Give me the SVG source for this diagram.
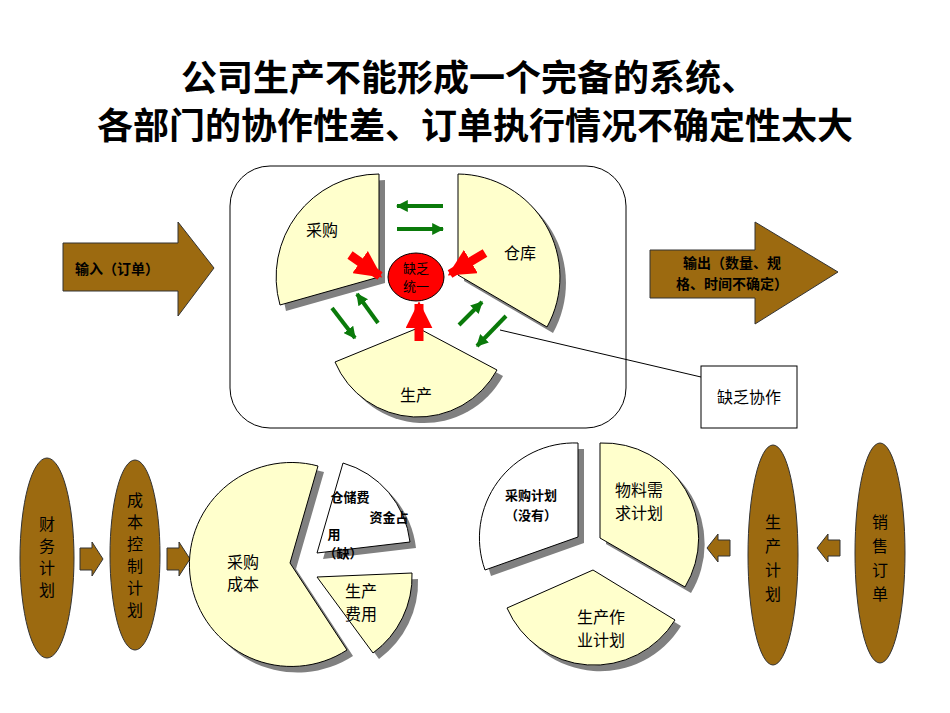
<svg xmlns="http://www.w3.org/2000/svg" width="950" height="713" viewBox="0 0 950 713">
<style>
text{font-family:"Noto Sans CJK SC","Liberation Sans",sans-serif;fill:#000}
.t{font-size:36px;font-weight:bold;text-anchor:middle}
.l{font-size:16px;text-anchor:middle}
.b{font-size:13px;font-weight:bold;text-anchor:middle}
.pie{fill:#FFFFCC;stroke:#000;stroke-width:1}
.w{fill:#fff;stroke:#000;stroke-width:1}
.sh{fill:#808080}
.br{fill:#9C6A10;stroke:#333;stroke-width:1}
.g{stroke:#0A7A0A;stroke-width:4;fill:none;marker-end:url(#ga)}
.r{stroke:#FF0000;stroke-width:9;fill:none;marker-end:url(#ra)}
</style>
<defs>
<marker id="ga" viewBox="0 0 10 10" refX="9" refY="5" markerWidth="3" markerHeight="3" orient="auto"><path d="M0,0L10,5L0,10Z" fill="#0A7A0A"/></marker>
<marker id="ra" viewBox="0 0 10 10" refX="9" refY="5" markerWidth="3" markerHeight="3" orient="auto"><path d="M0,0L10,5L0,10Z" fill="#FF0000"/></marker>
</defs>
<rect width="950" height="713" fill="#fff"/>
<text class="t" x="469" y="91">公司生产不能形成一个完备的系统、</text>
<text class="t" x="475" y="139">各部门的协作性差、订单执行情况不确定性太大</text>

<rect x="230" y="166" width="396" height="262" rx="40" fill="#fff" stroke="#000"/>
<g id="caigou"><path class="sh" d="M385,283L385,180A103,103 0 0 0 286,311Z"/><path class="pie" d="M379,277L379,174A103,103 0 0 0 280,305Z"/><text class="l" x="322" y="236">采购</text></g>
<g id="cangku"><path class="sh" d="M464,281L464,180A103,103 0 0 1 553,333Z"/><path class="pie" d="M458,275L458,174A103,103 0 0 1 547,327Z"/><text class="l" x="520" y="259">仓库</text></g>
<g id="shengchan"><path class="sh" d="M424,334L503,376A90,90 0 0 1 341,368Z"/><path class="pie" d="M418,328L497,370A90,90 0 0 1 335,362Z"/><text class="l" x="416" y="401">生产</text></g>
<g id="unify"><ellipse cx="416" cy="277" rx="28" ry="24" fill="#FF0000" stroke="#000"/><text x="416" y="273" font-size="13" text-anchor="middle">缺乏</text><text x="416" y="291" font-size="13" text-anchor="middle">统一</text></g>
<g id="connectors">
<path class="r" d="M350,255L380,276"/>
<path class="r" d="M485,253L450,274"/>
<path class="r" d="M419,341L419,304"/>
<path class="g" d="M443,206L397,206"/>
<path class="g" d="M397,229L443,229"/>
<path class="g" d="M332,308L355,338"/>
<path class="g" d="M378,323L357,294"/>
<path class="g" d="M459,325L482,302"/>
<path class="g" d="M506,316L477,346"/>
<path d="M500,330L701,377" stroke="#000" fill="none"/>
<path class="br" d="M80,548h12v-6l11,17l-11,17v-6h-12z"/>
<path class="br" d="M167,548h12v-6l11,17l-11,17v-6h-12z"/>
<path class="br" d="M730,540h-12v-6l-11,14l11,14v-6h12z"/>
<path class="br" d="M840,540h-12v-6l-11,14l11,14v-6h12z"/>
</g>
<g id="in"><path class="br" d="M63,243H178V222L214,268L178,316V291H63Z"/><text x="75" y="274" font-size="14" font-weight="bold">输入（订单）</text></g>
<g id="out"><path class="br" d="M650,250H755V222L838,272L755,324V298H650Z"/><text x="732" y="268" font-size="14" font-weight="bold" text-anchor="middle">输出（数量、规</text><text x="732" y="289" font-size="14" font-weight="bold" text-anchor="middle">格、时间不确定）</text></g>
<g id="xiezuo"><rect x="701" y="366" width="96" height="62" fill="#fff" stroke="#000"/><text class="l" x="749" y="403">缺乏协作</text></g>

<g id="caiwu"><ellipse class="br" cx="47" cy="558" rx="27" ry="100"/><text class="l" x="47" y="530">财</text><text class="l" x="47" y="552">务</text><text class="l" x="47" y="574">计</text><text class="l" x="47" y="596">划</text></g>
<g id="chengben"><ellipse class="br" cx="135" cy="555" rx="25" ry="95"/><text class="l" x="135" y="506">成</text><text class="l" x="135" y="528">本</text><text class="l" x="135" y="550">控</text><text class="l" x="135" y="572">制</text><text class="l" x="135" y="594">计</text><text class="l" x="135" y="616">划</text></g>
<g id="scjh"><ellipse class="br" cx="773" cy="555" rx="25" ry="110"/><text class="l" x="773" y="528">生</text><text class="l" x="773" y="552">产</text><text class="l" x="773" y="576">计</text><text class="l" x="773" y="600">划</text></g>
<g id="xsdd"><ellipse class="br" cx="880" cy="553" rx="25" ry="110"/><text class="l" x="880" y="528">销</text><text class="l" x="880" y="552">售</text><text class="l" x="880" y="576">订</text><text class="l" x="880" y="600">单</text></g>

<g id="cgcb"><path class="sh" d="M296,569L324,472A102,102 0 1 0 353,656Z"/><path class="pie" d="M290,563L318,466A102,102 0 1 0 347,650Z"/><text class="l" x="243" y="568">采购</text><text class="l" x="243" y="590">成本</text></g>
<g id="ccf"><path class="sh" d="M323,559L349,469A93,93 0 0 1 416,548Z"/><path class="w" d="M317,553L343,463A93,93 0 0 1 410,542Z"/><text class="b" x="350" y="502">仓储费</text><text class="b" x="389" y="522">资金占</text><text class="b" x="334" y="539">用</text><text class="b" x="343" y="558">（缺）</text></g>
<g id="scfy"><path class="sh" d="M323,583L418,579A95,95 0 0 1 379,659Z"/><path class="pie" d="M317,577L412,573A95,95 0 0 1 373,653Z"/><text class="l" x="361" y="597">生产</text><text class="l" x="361" y="620">费用</text></g>

<g id="cgjh"><path class="sh" d="M584,543L584,449A95,95 0 0 0 491,576Z"/><path class="w" d="M578,537L578,443A95,95 0 0 0 485,570Z"/><text class="b" x="531" y="500">采购计划</text><text class="b" x="531" y="520">（没有）</text></g>
<g id="wlxq"><path class="sh" d="M606,544L606,449A95,95 0 0 1 691,593Z"/><path class="pie" d="M600,538L600,443A95,95 0 0 1 685,587Z"/><text class="l" x="639" y="496">物料需</text><text class="l" x="639" y="519">求计划</text></g>
<g id="sczy"><path class="sh" d="M599,576L681,626A95,95 0 0 1 513,614Z"/><path class="pie" d="M593,570L675,620A95,95 0 0 1 507,608Z"/><text class="l" x="601" y="623">生产作</text><text class="l" x="601" y="646">业计划</text></g>
</svg>
